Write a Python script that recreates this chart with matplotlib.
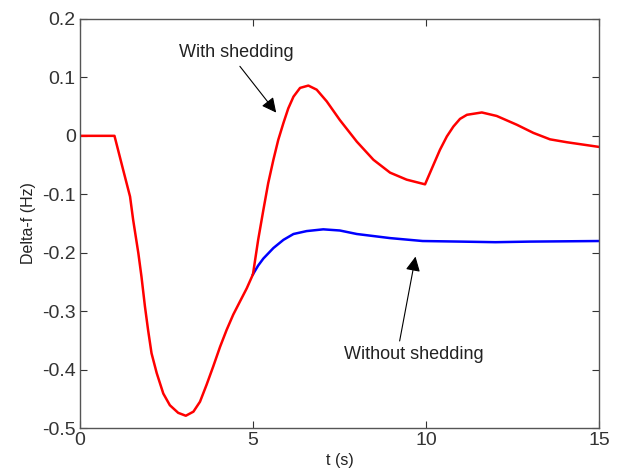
import matplotlib.pyplot as plt
import numpy as np

plt.rcParams['font.family'] = ['Liberation Sans', 'DejaVu Sans']

# frequency deviation, common part before shedding decision at t = 5 s
t_pre = [0, 1.0, 1.25, 1.45, 1.54, 1.69, 1.78, 1.88, 1.97, 2.07, 2.22, 2.41,
         2.6, 2.84, 3.06, 3.28, 3.47, 3.66, 3.85, 4.05, 4.24, 4.43, 4.62, 4.82, 5.0]
f_pre = [0, 0, -0.058, -0.104, -0.144, -0.201, -0.241, -0.292, -0.332, -0.372,
         -0.406, -0.441, -0.461, -0.474, -0.479, -0.472, -0.455, -0.426, -0.395,
         -0.361, -0.332, -0.306, -0.284, -0.261, -0.237]

# with load shedding
t_shed = [5.0, 5.15, 5.3, 5.44, 5.59, 5.73, 5.88, 6.02, 6.17, 6.36, 6.6, 6.84,
          7.13, 7.51, 8.0, 8.48, 8.96, 9.44, 9.97, 10.21, 10.4, 10.6, 10.79,
          10.98, 11.18, 11.61, 12.04, 12.62, 13.1, 13.58, 14.07, 15.0]
f_shed = [-0.237, -0.178, -0.127, -0.081, -0.041, -0.007, 0.022, 0.047, 0.067,
          0.082, 0.086, 0.079, 0.059, 0.027, -0.010, -0.041, -0.063, -0.075,
          -0.083, -0.050, -0.024, -0.001, 0.016, 0.029, 0.036, 0.040, 0.034,
          0.019, 0.005, -0.006, -0.011, -0.019]

# without load shedding
t_noshed = [5.0, 5.15, 5.3, 5.59, 5.88, 6.17, 6.55, 7.03, 7.51, 8.0, 8.96,
            9.9, 11.0, 12.0, 13.0, 15.0]
f_noshed = [-0.237, -0.222, -0.21, -0.192, -0.178, -0.168, -0.163, -0.16,
            -0.162, -0.168, -0.175, -0.18, -0.181, -0.182, -0.181, -0.18]

fig, ax = plt.subplots(figsize=(6.19, 4.74), dpi=100)
plt.subplots_adjust(left=0.129, right=0.968, top=0.96, bottom=0.097)

ax.plot(t_noshed, f_noshed, color='#0000ff', lw=1.8)
ax.plot(t_pre + t_shed[1:], f_pre + f_shed[1:], color='#ff0000', lw=1.8)

ax.set_xlim(0, 15)
ax.set_ylim(-0.5, 0.2)
ax.set_xticks([0, 5, 10, 15])
ax.set_yticks(np.arange(-0.5, 0.21, 0.1))
ax.set_yticklabels(['-0.5', '-0.4', '-0.3', '-0.2', '-0.1', '0', '0.1', '0.2'])
ax.tick_params(direction='in', top=True, right=True, labelsize=14,
               colors='#333333', length=5, width=0.8, pad=3)
for s in ax.spines.values():
    s.set_color('#555555')
    s.set_linewidth(1.0)

ax.set_xlabel('t (s)', fontsize=11.5, color='#222222', labelpad=3)
ax.set_ylabel('Delta-f (Hz)', fontsize=11.5, color='#222222', labelpad=4)

arrow = dict(arrowstyle='-|>', color='black', lw=0.8, mutation_scale=22)
ax.annotate('With shedding', xy=(5.72, 0.036), xytext=(4.51, 0.142),
            fontsize=13, ha='center', va='center', color='#222222',
            arrowprops=dict(arrow, relpos=(0.5, 0)))
ax.annotate('Without shedding', xy=(9.71, -0.202), xytext=(9.65, -0.375),
            fontsize=13, ha='center', va='center', color='#222222',
            arrowprops=dict(arrow, relpos=(0.39, 1)))

plt.savefig('out.png')
